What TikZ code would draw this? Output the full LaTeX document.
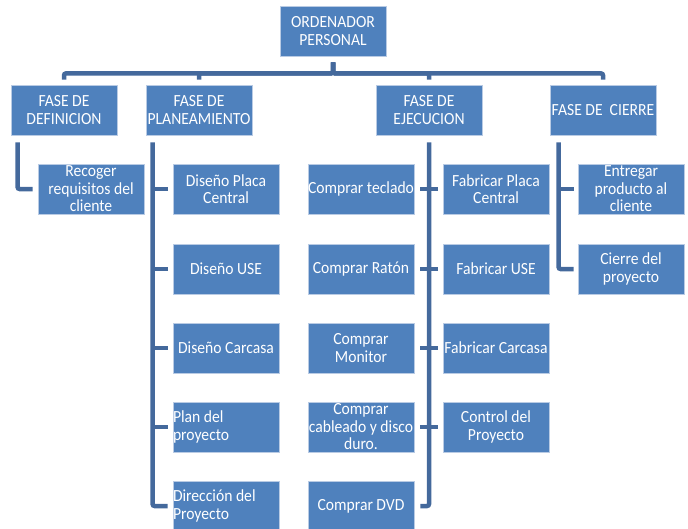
\documentclass[tikz,border=0pt]{standalone}
\usepackage{fontspec}
\setmainfont{Carlito}[FakeStretch=0.92]
\usetikzlibrary{calc}
\definecolor{boxblue}{HTML}{4F81BD}
\definecolor{linkblue}{HTML}{44699C}
\definecolor{rimblue}{HTML}{B9CBE4}
\begin{document}
\begin{tikzpicture}[x=1pt,y=-1pt,
  wbs/.style={draw=rimblue, line width=0.8pt, fill=boxblue, text=white,
    minimum width=106pt, minimum height=50pt, inner sep=0pt, align=center,
    font=\fontsize{17}{17.5}\selectfont},
  wbsleft/.style={wbs, text width=106pt, align=flush left},
  conn/.style={draw=linkblue, line width=4.5pt, rounded corners=2pt}]
\useasboundingbox (0,0) rectangle (688,528);

% root and phases
\node[wbs] (root) at (333,31) {ORDENADOR\\PERSONAL};
\node[wbs] (def) at (64,110) {FASE DE\\DEFINICION};
\node[wbs] (plan) at (199,110) {FASE DE\\PLANEAMIENTO};
\node[wbs] (ejec) at (429,110) {FASE DE\\EJECUCION};
\node[wbs] (cierre) at (603,110) {FASE DE\ \ CIERRE};

% definition
\node[wbs] (rec) at (91,189) {Recoger\\requisitos del\\cliente};

% planning
\node[wbs] (dpc) at (226,189) {Diseño Placa\\Central};
\node[wbs] (duse) at (226,269) {Diseño USE};
\node[wbs] (dcar) at (226,348) {Diseño Carcasa};
\node[wbsleft] (pdp) at (226,427) {Plan del\\proyecto};
\node[wbsleft] (dir) at (226,506) {Dirección del\\Proyecto};

% execution
\node[wbs] (ctec) at (361,189) {Comprar teclado};
\node[wbs] (crat) at (361,269) {Comprar Ratón};
\node[wbs] (cmon) at (361,348) {Comprar\\Monitor};
\node[wbs] (ccab) at (361,427) {Comprar\\cableado y disco\\duro.};
\node[wbs] (cdvd) at (361,506) {Comprar DVD};
\node[wbs] (fpc) at (496,189) {Fabricar Placa\\Central};
\node[wbs] (fuse) at (496,269) {Fabricar USE};
\node[wbs] (fcar) at (496,348) {Fabricar Carcasa};
\node[wbs] (cdp) at (496,427) {Control del\\Proyecto};

% closing
\node[wbs] (ent) at (631,189) {Entregar\\producto al\\cliente};
\node[wbs] (cie) at (631,269) {Cierre del\\proyecto};

% root to phases
\coordinate (bar) at ($(root.south)+(0,17)$);
\foreach \c in {def,plan,ejec,cierre}
  \draw[conn, shorten <=6pt] (root.south) -- (bar) -| ([yshift=5pt]\c.north);

% definition branch
\coordinate (defx) at ([xshift=7pt,yshift=-7pt]def.south west);
\draw[conn] (defx) |- ([xshift=-5pt]rec.west);

% planning branch
\coordinate (planx) at ([xshift=7pt,yshift=-7pt]plan.south west);
\draw[conn] (planx) |- ([xshift=-5pt]dir.west);
\foreach \c in {dpc,duse,dcar,pdp}
  \draw[conn] (planx |- \c.west) -- ([xshift=-5pt]\c.west);

% execution branch
\coordinate (ejx) at ([yshift=-7pt]ejec.south);
\draw[conn] (ejx) |- ([xshift=6pt]cdvd.east);
\foreach \a/\b in {ctec/fpc,crat/fuse,cmon/fcar,ccab/cdp}
  \draw[conn] ([xshift=6pt]\a.east) -- ([xshift=-5pt]\b.west);

% closing branch
\coordinate (cix) at ([xshift=9pt,yshift=-7pt]cierre.south west);
\draw[conn] (cix) |- ([xshift=-4pt]cie.west);
\draw[conn] (cix |- ent.west) -- ([xshift=-4pt]ent.west);
\end{tikzpicture}
\end{document}
